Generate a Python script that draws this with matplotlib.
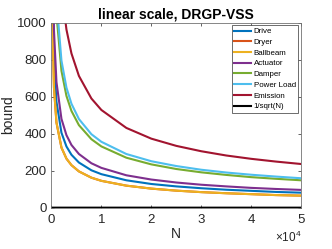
import matplotlib
matplotlib.use("Agg")
import matplotlib.pyplot as plt
from matplotlib.ticker import ScalarFormatter

plt.rcParams["font.family"] = ["Liberation Sans", "DejaVu Sans"]
plt.rcParams["mathtext.fontset"] = "custom"
plt.rcParams["mathtext.rm"] = "Liberation Sans"

# sample sizes
N = [100, 200, 500, 1000, 2000, 3000, 4000, 5500, 8000, 10000,
     15000, 20000, 25000, 30000, 35000, 40000, 45000, 50000]

# bound values (Dryer is hidden under Ballbeam)
drive = [1811, 1281, 810, 573, 405, 331, 286, 244, 202, 181, 148, 128, 115, 105, 97, 91, 85, 81]
dryer = [1453, 1027, 650, 460, 325, 265, 230, 196, 162, 145, 119, 103, 92, 84, 78, 73, 68, 65]
ballbeam = [1453, 1027, 650, 460, 325, 265, 230, 196, 162, 145, 119, 103, 92, 84, 78, 73, 68, 65]
actuator = [2147, 1518, 960, 679, 480, 392, 339, 290, 240, 215, 175, 152, 136, 124, 115, 107, 101, 96]
damper = [3309, 2340, 1480, 1046, 740, 604, 523, 446, 370, 331, 270, 234, 209, 191, 177, 165, 156, 148]
power_load = [3555, 2514, 1590, 1124, 795, 649, 562, 479, 397, 356, 290, 251, 225, 205, 190, 178, 168, 159]
emission = [5277, 3731, 2360, 1669, 1180, 963, 834, 712, 590, 528, 431, 373, 334, 305, 282, 264, 249, 236]
inv_sqrt = [0.1, 0.0707, 0.0447, 0.0316, 0.0224, 0.0183, 0.0158, 0.0135, 0.0112, 0.01,
            0.0082, 0.0071, 0.0063, 0.0058, 0.0053, 0.005, 0.0047, 0.0045]

series = [
    ("Drive", drive, (0, 0.447, 0.741)),
    ("Dryer", dryer, (0.85, 0.325, 0.098)),
    ("Ballbeam", ballbeam, (0.929, 0.694, 0.125)),
    ("Actuator", actuator, (0.494, 0.184, 0.556)),
    ("Damper", damper, (0.466, 0.674, 0.188)),
    ("Power Load", power_load, (0.301, 0.745, 0.933)),
    ("Emission", emission, (0.635, 0.078, 0.184)),
]

fig = plt.figure(figsize=(3.32, 2.49), dpi=100)
ax = fig.add_axes([0.155, 0.166, 0.752, 0.743])

for name, vals, col in series:
    ax.plot(N, vals, color=col, lw=1.5, label=name)
ax.plot(N, inv_sqrt, color="black", lw=1.5, label="1/sqrt(N)")

ax.set_xlim(0, 50000)
ax.set_ylim(0, 1000)
ax.set_yticks([0, 200, 400, 600, 800, 1000])
ax.set_xticks([0, 10000, 20000, 30000, 40000, 50000])

fmt = ScalarFormatter(useMathText=True)
fmt.set_powerlimits((4, 4))
ax.xaxis.set_major_formatter(fmt)
ax.xaxis.get_offset_text().set_fontsize(8.5)
ax.xaxis.get_offset_text().set_color("0.25")

ax.tick_params(direction="in", top=True, right=True, labelsize=9.5,
               colors="0.15", length=2.5, width=0.5)
for sp in ax.spines.values():
    sp.set_color("0.45")
    sp.set_linewidth(0.6)

ax.set_title("linear scale, DRGP-VSS", fontsize=10, fontweight="bold", pad=3)
ax.set_xlabel("N", fontsize=10, color="0.15", labelpad=1)
ax.set_ylabel("bound", fontsize=10, color="0.15", labelpad=1)

leg = ax.legend(loc="upper right", fontsize=5.7, frameon=True, fancybox=False,
                framealpha=1, edgecolor="0.2", borderpad=0.3, labelspacing=0.4,
                handlelength=2.2, handletextpad=0.3, borderaxespad=0.35)
leg.get_frame().set_linewidth(0.5)

fig.savefig("out.png", dpi=100)
